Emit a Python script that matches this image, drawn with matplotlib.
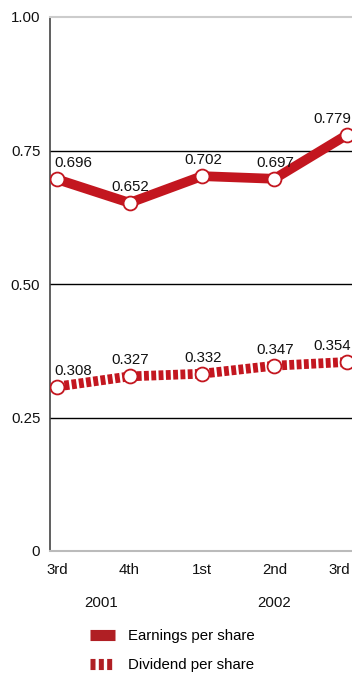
import matplotlib
matplotlib.use("Agg")
import matplotlib.pyplot as plt
from matplotlib.lines import Line2D
from matplotlib.transforms import offset_copy, ScaledTranslation

# データ
quarters = ["3rd", "4th", "1st", "2nd", "3rd"]
years = ["2001", "2002"]
year_pos = [0.6, 3.0]
eps = [0.696, 0.652, 0.702, 0.697, 0.779]
dps = [0.308, 0.327, 0.332, 0.347, 0.354]
yticks = [0, 0.25, 0.50, 0.75, 1.00]
ytick_labels = ["0", "0.25", "0.50", "0.75", "1.00"]

red = "#c3161f"
plt.rcParams['font.family'] = ['Liberation Sans', 'DejaVu Sans']
fs = 10.8

W, H = 352, 675
fig = plt.figure(figsize=(W / 100, H / 100), dpi=100)
# 軸の位置（ピクセル → 図の比率）
left, right, top, bottom = 50, 354, 17, 551
ax = fig.add_axes([left / W, 1 - bottom / H, (right - left) / W, (bottom - top) / H])

x = list(range(len(quarters)))
ax.plot(x, eps, color=red, lw=7, solid_capstyle='butt', zorder=3)
ax.plot(x, dps, color=red, lw=7, dashes=(0.5, 0.25), dash_capstyle='butt', zorder=3)
for ys in (eps, dps):
    ax.plot(x, ys, ls='none', marker='o', ms=10, mfc='white', mec=red, mew=1.3, zorder=4)

# 値ラベル
for ys in (eps, dps):
    for i, v in enumerate(ys):
        if i == 0:
            tr = offset_copy(ax.transData, fig=fig, x=-3, y=9, units='dots')
            ha = 'left'
        elif i == len(ys) - 1:
            tr = offset_copy(ax.transData, fig=fig, x=4, y=9, units='dots')
            ha = 'right'
        else:
            tr = offset_copy(ax.transData, fig=fig, x=1, y=9, units='dots')
            ha = 'center'
        ax.text(i, v, f"{v:.3f}", transform=tr, ha=ha, va='bottom',
                fontsize=fs, color='#111111', zorder=5)

ax.set_xlim(-0.1, 4.1)
ax.set_ylim(0, 1.0)
ax.set_yticks(yticks)
ax.set_yticklabels(ytick_labels)
ax.set_xticks(x)
ax.set_xticklabels(quarters)
ax.tick_params(axis='both', length=0, labelsize=fs, colors='#111111')
ax.tick_params(axis='y', pad=7)
ax.tick_params(axis='x', pad=9)
# 右端の「3rd」を少し左へ
last = ax.get_xticklabels()[-1]
last.set_transform(last.get_transform() + ScaledTranslation(-7 / 100, 0, fig.dpi_scale_trans))
for yv in yticks[1:-1]:
    ax.axhline(yv, color='black', lw=1.0, zorder=1)

ax.spines['left'].set_color('#444444')
ax.spines['left'].set_linewidth(1.2)
ax.spines['top'].set_color('#cccccc')
ax.spines['top'].set_linewidth(1.5)
ax.spines['bottom'].set_color('#bbbbbb')
ax.spines['bottom'].set_linewidth(1.5)
ax.spines['right'].set_visible(False)

# 年ラベル
for xp, yr in zip(year_pos, years):
    ax.text(xp, -0.098, yr, transform=ax.get_xaxis_transform(), ha='center', va='center',
            fontsize=fs, color='#111111')

# 凡例
handles = [
    Line2D([], [], color='#b01f24', lw=8, solid_capstyle='butt'),
    Line2D([], [], color='#b01f24', lw=8, dashes=(0.45, 0.3), dash_capstyle='butt'),
]
fig.legend(handles, ["Earnings per share", "Dividend per share"],
           loc='upper left', bbox_to_anchor=(84 / W, 1 - 623 / H),
           frameon=False, handlelength=1.65, handletextpad=0.85, labelspacing=1.0,
           fontsize=fs, borderaxespad=0)

fig.savefig("out.png", dpi=100)
